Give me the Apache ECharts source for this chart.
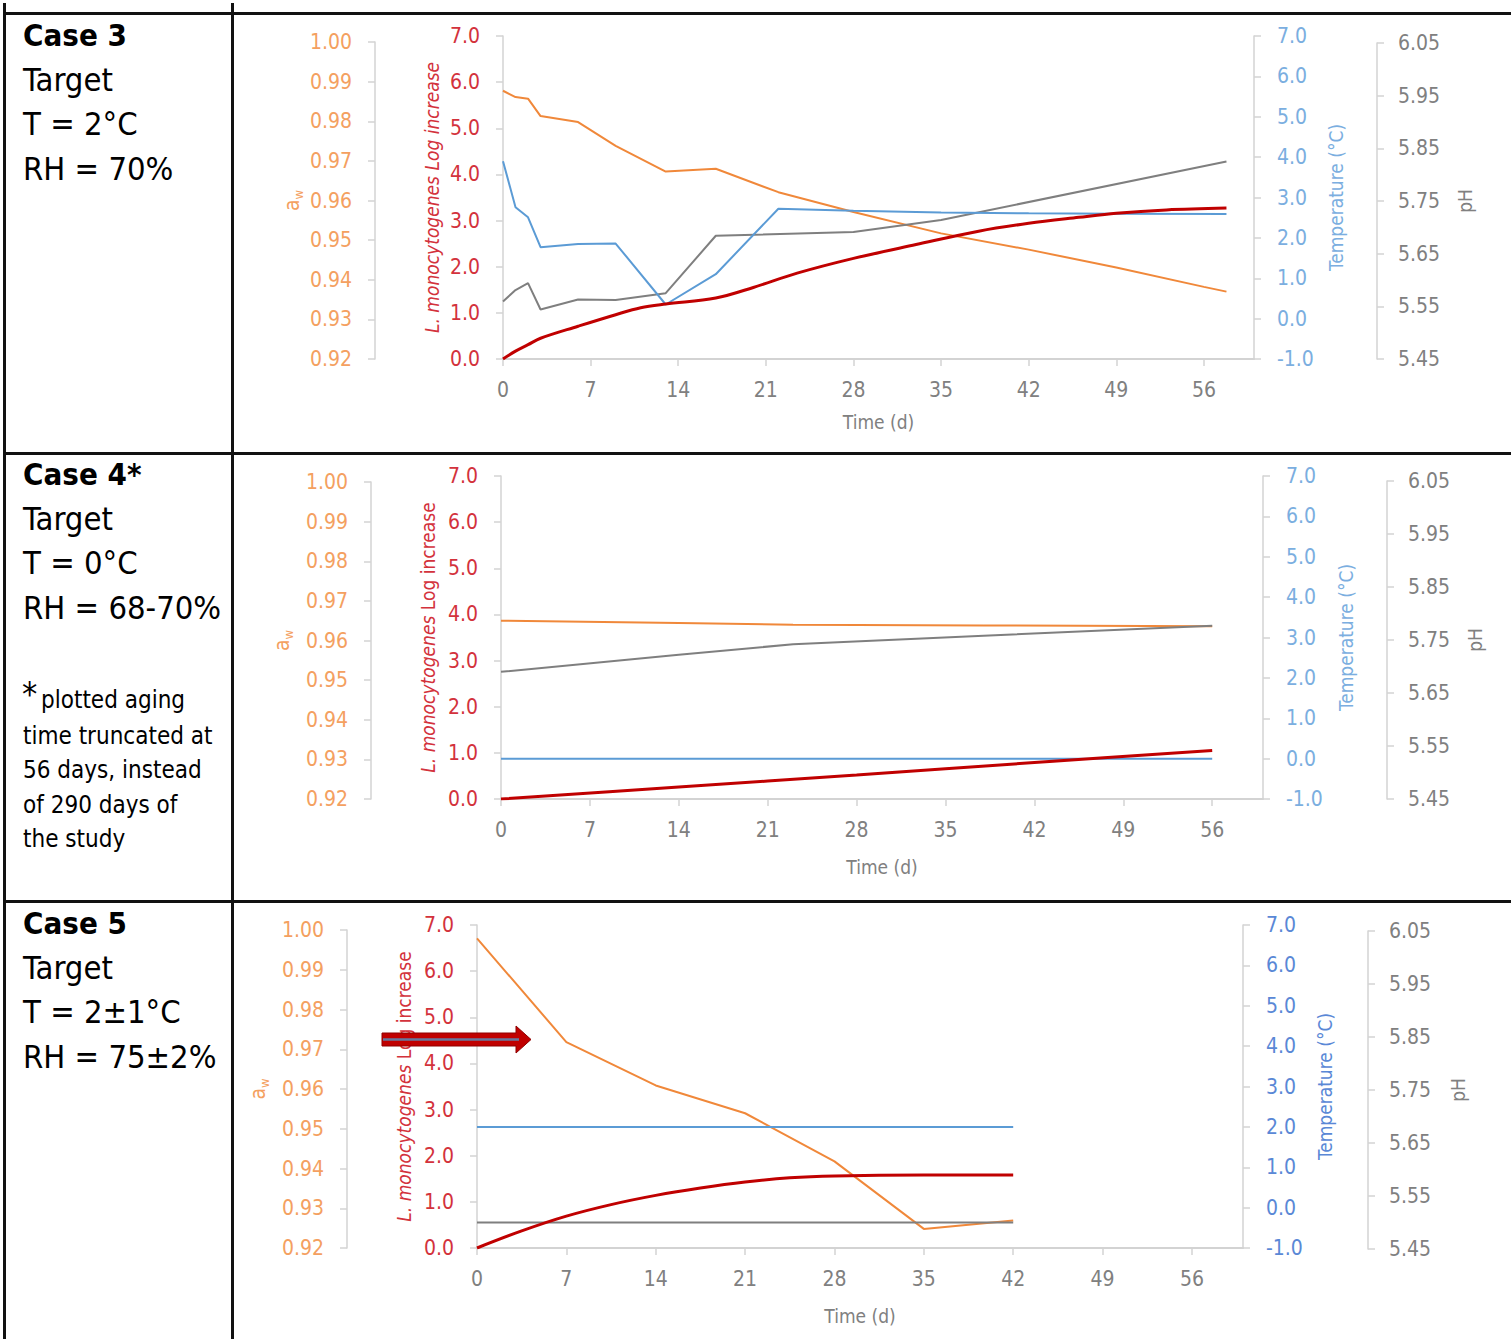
<!DOCTYPE html>
<html><head><meta charset="utf-8">
<script src="https://cdn.jsdelivr.net/npm/echarts@6/dist/echarts.min.js"></script>
<style>html,body{margin:0;padding:0;background:#fff}#c{width:1511px;height:1339px}</style>
</head><body><div id="c"></div><script>
const FONT = "'DejaVu Sans Condensed','DejaVu Sans',sans-serif";

// ---- tick labels ----
const dayTicks = [0, 7, 14, 21, 28, 35, 42, 49, 56];
const awTicks = [0.92, 0.93, 0.94, 0.95, 0.96, 0.97, 0.98, 0.99, 1.00];
const logTicks = [0, 1, 2, 3, 4, 5, 6, 7];
const tempTicks = [-1, 0, 1, 2, 3, 4, 5, 6, 7];
const phTicks = [5.45, 5.55, 5.65, 5.75, 5.85, 5.95, 6.05];

// ---- Case 3 ----
const c3AwDays = [0, 1, 2, 3, 6, 9, 13, 17, 22, 28, 35, 42, 49, 56, 57.8];
const c3Aw = [0.9877, 0.9861, 0.9857, 0.9813, 0.9798, 0.9738, 0.9673, 0.9680, 0.9621, 0.9571, 0.9517, 0.9476, 0.9431, 0.9382, 0.9370];
const c3PhDays = [0, 1, 2, 3, 6, 9, 13, 17, 28, 35, 57.8];
const c3Ph = [5.559, 5.581, 5.594, 5.544, 5.563, 5.562, 5.575, 5.684, 5.691, 5.714, 5.825];
const c3TempDays = [0, 1, 2, 3, 6, 9, 13, 17, 22, 28, 35, 42, 49, 57.8];
const c3Temp = [3.90, 2.76, 2.51, 1.77, 1.85, 1.86, 0.35, 1.10, 2.72, 2.67, 2.63, 2.61, 2.60, 2.59];
const c3LogDays = [0, 1, 2, 3, 6, 9, 11, 13, 17, 20, 23.5, 28, 33, 38, 42, 46, 49, 53, 57.8];
const c3Log = [0, 0.17, 0.31, 0.45, 0.71, 0.96, 1.11, 1.19, 1.32, 1.55, 1.86, 2.18, 2.48, 2.77, 2.94, 3.07, 3.16, 3.23, 3.27];

// ---- Case 4 ----
const c4AwDays = [0, 14, 23, 38, 56];
const c4Aw = [0.9650, 0.9644, 0.9640, 0.9638, 0.9636];
const c4PhDays = [0, 14, 23, 38, 56];
const c4Ph = [5.690, 5.722, 5.742, 5.758, 5.777];
const c4TempDays = [0, 56];
const c4Temp = [0.0, 0.0];
const c4LogDays = [0, 14, 28, 42, 56];
const c4Log = [0, 0.26, 0.52, 0.79, 1.05];

// ---- Case 5 ----
const c5AwDays = [0, 7, 14, 21, 28, 35, 42];
const c5Aw = [0.9979, 0.9718, 0.9609, 0.9539, 0.9418, 0.9248, 0.9269];
const c5PhDays = [0, 42];
const c5Ph = [5.50, 5.50];
const c5TempDays = [0, 42];
const c5Temp = [2.0, 2.0];
const c5LogDays = [0, 3.5, 7, 10.5, 14, 17.5, 21, 24.5, 28, 35, 42];
const c5Log = [0, 0.37, 0.69, 0.94, 1.14, 1.30, 1.43, 1.52, 1.56, 1.58, 1.58];

// ---- left column texts ----
const caseTitles = ['Case 3', 'Case 4*', 'Case 5'];
const caseLines = [
  ['Target', 'T = 2°C', 'RH = 70%'],
  ['Target', 'T = 0°C', 'RH = 68-70%'],
  ['Target', 'T = 2±1°C', 'RH = 75±2%']
];
const footnoteLines = ['plotted aging', 'time truncated at', '56 days, instead', 'of 290 days of', 'the study'];

const cases = [
  {aw: [c3AwDays, c3Aw], ph: [c3PhDays, c3Ph], temp: [c3TempDays, c3Temp], log: [c3LogDays, c3Log]},
  {aw: [c4AwDays, c4Aw], ph: [c4PhDays, c4Ph], temp: [c4TempDays, c4Temp], log: [c4LogDays, c4Log]},
  {aw: [c5AwDays, c5Aw], ph: [c5PhDays, c5Ph], temp: [c5TempDays, c5Temp], log: [c5LogDays, c5Log]}
];

const layouts = [
  {x0:503, xR:1254, top:36, bottom:359, awX:375, awTop:42, awBottom:359, phX:1377, phTop:43, phBottom:359, awGap:70, logGap:62, tempGap:72, phGap:78, xNameGap:53, tempColor:'#7BAEE0', italicAll:true},
  {x0:501, xR:1263, top:476, bottom:799, awX:371, awTop:482, awBottom:799, phX:1387, phTop:481, phBottom:799, awGap:76, logGap:62, tempGap:73, phGap:78, xNameGap:58, tempColor:'#7BAEE0', italicAll:false},
  {x0:477, xR:1243, top:925, bottom:1248, awX:347, awTop:930, awBottom:1248, phX:1368, phTop:931, phBottom:1249, awGap:70, logGap:64, tempGap:72, phGap:80, xNameGap:58, tempColor:'#5A88D6', italicAll:false}
];

const AXIS_GRAY = '#D3D3D3';
const C_ORANGE = '#F0883A', C_ORANGE_T = '#F4A060';
const C_RED = '#C00000', C_RED_T = '#D3323C';
const C_BLUE = '#5B9BD5';
const C_GRAY = '#7F7F7F', C_GRAY_T = '#808080';
const TICK_FS = 21;

const zip = (xs, ys) => xs.map((x, i) => [x, ys[i]]);

const grid = [], xAxis = [], yAxis = [], series = [];

function yAx(gi, o) {
  return Object.assign({
    type: 'value', gridIndex: gi, splitLine: {show: false},
    axisLine: {show: true, onZero: false, lineStyle: {color: AXIS_GRAY, width: 1.5}},
    axisTick: {show: true, inside: false, length: 7, lineStyle: {color: AXIS_GRAY, width: 1.5}},
    nameLocation: 'middle', nameRotate: 90
  }, o);
}

layouts.forEach((L, k) => {
  const d = cases[k];
  const w = L.xR - L.x0;
  const g0 = grid.length;
  grid.push({left: L.x0, top: L.top, width: w, height: L.bottom - L.top, containLabel: false, outerBoundsMode: 'none'});
  grid.push({left: L.x0, top: L.awTop, width: w, height: L.awBottom - L.awTop, containLabel: false, outerBoundsMode: 'none'});
  grid.push({left: L.x0, top: L.phTop, width: w, height: L.phBottom - L.phTop, containLabel: false, outerBoundsMode: 'none'});

  const xi = xAxis.length;
  xAxis.push({
    type: 'value', gridIndex: g0, min: 0, max: 60, interval: 7, splitLine: {show: false},
    axisLine: {show: true, onZero: false, lineStyle: {color: AXIS_GRAY, width: 2}},
    axisTick: {show: true, length: 7, customValues: dayTicks, lineStyle: {color: AXIS_GRAY, width: 1.5}},
    axisLabel: {customValues: dayTicks, margin: 20, color: C_GRAY_T, fontSize: TICK_FS, fontFamily: FONT, formatter: v => String(v)},
    name: 'Time (d)', nameLocation: 'middle', nameGap: L.xNameGap,
    nameTextStyle: {color: C_GRAY_T, fontSize: 19, fontFamily: FONT}
  });
  xAxis.push({type: 'value', gridIndex: g0 + 1, min: 0, max: 60, show: false});
  xAxis.push({type: 'value', gridIndex: g0 + 2, min: 0, max: 60, show: false});

  const yi = yAxis.length;
  // log increase (left, inner)
  yAxis.push(yAx(g0, {
    position: 'left', min: 0, max: 7, interval: 1,
    axisTick: {show: true, length: 7, customValues: logTicks, lineStyle: {color: AXIS_GRAY, width: 1.5}},
    axisLabel: {customValues: logTicks, margin: 23, color: C_RED_T, fontSize: TICK_FS, fontFamily: FONT, formatter: v => v.toFixed(1)},
    name: L.italicAll ? '{i|L. monocytogenes Log increase}' : '{i|L. monocytogenes} {n|Log increase}',
    nameGap: L.logGap,
    nameTextStyle: {color: C_RED_T, fontSize: 19, fontFamily: FONT,
      rich: {i: {fontStyle: 'italic', color: C_RED_T, fontSize: 19, fontFamily: FONT}, n: {color: C_RED_T, fontSize: 19, fontFamily: FONT}}}
  }));
  // temperature (right, inner)
  yAxis.push(yAx(g0, {
    position: 'right', min: -1, max: 7, interval: 1,
    axisTick: {show: true, length: 7, customValues: tempTicks, lineStyle: {color: AXIS_GRAY, width: 1.5}},
    axisLabel: {customValues: tempTicks, margin: 23, color: L.tempColor, fontSize: TICK_FS, fontFamily: FONT, formatter: v => v.toFixed(1)},
    name: 'Temperature (°C)', nameGap: L.tempGap,
    nameTextStyle: {color: L.tempColor, fontSize: 19, fontFamily: FONT}
  }));
  // aw (left, outer)
  yAxis.push(yAx(g0 + 1, {
    position: 'left', offset: L.x0 - L.awX, min: 0.92, max: 1.0, interval: 0.01,
    axisTick: {show: true, length: 7, customValues: awTicks, lineStyle: {color: AXIS_GRAY, width: 1.5}},
    axisLabel: {customValues: awTicks, margin: 23, color: C_ORANGE_T, fontSize: TICK_FS, fontFamily: FONT, formatter: v => v.toFixed(2)},
    name: '{a|a}{w|w}', nameGap: L.awGap,
    nameTextStyle: {color: C_ORANGE_T, fontSize: 21, fontFamily: FONT,
      rich: {a: {fontSize: 21, lineHeight: 26, color: C_ORANGE_T, fontFamily: FONT},
             w: {fontSize: 13, lineHeight: 14, verticalAlign: 'bottom', color: C_ORANGE_T, fontFamily: FONT}}}
  }));
  // pH (right, outer)
  yAxis.push(yAx(g0 + 2, {
    position: 'right', offset: L.phX - L.xR, min: 5.45, max: 6.05, interval: 0.1,
    axisTick: {show: true, length: 7, customValues: phTicks, lineStyle: {color: AXIS_GRAY, width: 1.5}},
    axisLabel: {customValues: phTicks, margin: 21, color: C_GRAY_T, fontSize: TICK_FS, fontFamily: FONT, formatter: v => v.toFixed(2)},
    name: 'pH', nameGap: L.phGap,
    nameTextStyle: {color: C_GRAY_T, fontSize: 19, fontFamily: FONT}
  }));

  const base = {type: 'line', symbol: 'none', silent: true, animation: false};
  series.push(Object.assign({}, base, {name: 'aw ' + k, xAxisIndex: xi + 1, yAxisIndex: yi + 2, data: zip(d.aw[0], d.aw[1]), lineStyle: {color: C_ORANGE, width: 2}, z: 3}));
  series.push(Object.assign({}, base, {name: 'pH ' + k, xAxisIndex: xi + 2, yAxisIndex: yi + 3, data: zip(d.ph[0], d.ph[1]), lineStyle: {color: C_GRAY, width: 2}, z: 3}));
  series.push(Object.assign({}, base, {name: 'T ' + k, xAxisIndex: xi, yAxisIndex: yi + 1, data: zip(d.temp[0], d.temp[1]), lineStyle: {color: C_BLUE, width: 2}, z: 3}));
  series.push(Object.assign({}, base, {name: 'Lm ' + k, xAxisIndex: xi, yAxisIndex: yi, data: zip(d.log[0], d.log[1]), smooth: 0.35, lineStyle: {color: C_RED, width: 3}, z: 4}));
});

// ---- table & left column graphics ----
const graphic = [];
const BORDER = '#111111';
graphic.push({type: 'rect', shape: {x: 3, y: 3, width: 3, height: 1336}, style: {fill: BORDER}, silent: true});
graphic.push({type: 'rect', shape: {x: 231, y: 3, width: 3, height: 1336}, style: {fill: BORDER}, silent: true});
[12, 452, 900].forEach(y => graphic.push({type: 'rect', shape: {x: 3, y: y, width: 1508, height: 3}, style: {fill: BORDER}, silent: true}));

function txt(s, x, y, size, weight) {
  return {type: 'text', x: x, y: y, silent: true,
    style: {text: s, fill: '#000', font: (weight || 'normal') + ' ' + size + 'px ' + FONT,
      textAlign: 'left', textVerticalAlign: 'middle', align: 'left', verticalAlign: 'middle'}};
}
const rowTops = [35, 474, 923];
caseTitles.forEach((t, k) => {
  const y0 = rowTops[k];
  graphic.push(txt(t, 23, y0, 31, 'bold'));
  caseLines[k].forEach((s, j) => graphic.push(txt(s, 23, y0 + 44.5 * (j + 1), 32.5)));
});
graphic.push(txt('*', 22, 694, 34));
const fnY = [700, 736, 770, 805, 839];
footnoteLines.forEach((s, j) => graphic.push(txt(s, j === 0 ? 41 : 23, fnY[j], 24)));

// red arrow annotation in case 5
graphic.push({type: 'polygon', silent: true, z: 100,
  shape: {points: [[382, 1033], [516, 1033], [516, 1026], [531, 1039.5], [516, 1053], [516, 1046], [382, 1046]]},
  style: {fill: '#C00000', stroke: '#8E0000', lineWidth: 1}});
graphic.push({type: 'line', silent: true, z: 101,
  shape: {x1: 383, y1: 1039.5, x2: 519, y2: 1039.5}, style: {stroke: '#66789E', lineWidth: 2.5}});

const chart = echarts.init(document.getElementById('c'), null, {renderer: 'svg', width: 1511, height: 1339});
chart.setOption({
  animation: false,
  backgroundColor: '#ffffff',
  textStyle: {fontFamily: FONT},
  grid: grid, xAxis: xAxis, yAxis: yAxis, series: series, graphic: graphic
});
</script></body></html>
